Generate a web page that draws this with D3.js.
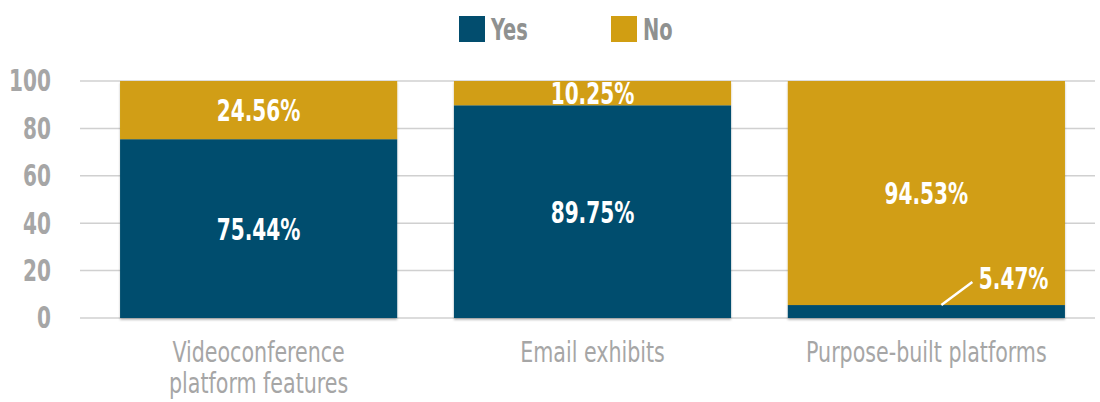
<!DOCTYPE html>
<html>
<head>
<meta charset="utf-8">
<script src="https://cdn.jsdelivr.net/npm/d3@7"></script>
<style>
  body { margin: 0; background: #fff; }
  svg text { font-family: "DejaVu Sans", sans-serif; font-stretch: condensed; }
</style>
</head>
<body>
<div id="chart"></div>
<script>
const WIDTH = 1100, HEIGHT = 402;
const MARGINS = {top: 81, bottom: 84, left: 80, right: 5};

const categories = [["Videoconference", "platform features"], ["Email exhibits"], ["Purpose-built platforms"]];
const yesValues = [75.44, 89.75, 5.47];
const noValues = [24.56, 10.25, 94.53];
const seriesNames = ["Yes", "No"];
const yTicks = [0, 20, 40, 60, 80, 100];
const colors = ["#024d6e", "#d19e12"];

// squeeze text horizontally, the original uses a narrow typeface
function condense(sel, k) {
    sel.each(function() {
        const w = this.getComputedTextLength();
        d3.select(this)
            .attr('textLength', w * k)
            .attr('lengthAdjust', 'spacingAndGlyphs');
    });
}

const svg = d3.select('#chart').append('svg')
    .attr('width', WIDTH)
    .attr('height', HEIGHT);

const defs = svg.append('defs');
defs.append('filter')
    .attr('id', 'shadow')
    .attr('x', '-5%').attr('y', '-5%').attr('width', '110%').attr('height', '115%')
    .append('feDropShadow')
    .attr('dx', 0).attr('dy', 2)
    .attr('stdDeviation', 1)
    .attr('flood-color', '#000')
    .attr('flood-opacity', 0.25);

const x = d3.scaleBand()
    .domain(d3.range(categories.length))
    .range([MARGINS.left, 1105])
    .paddingInner(0.17)
    .paddingOuter(0.12);

const y = d3.scaleLinear()
    .domain([0, 100])
    .range([HEIGHT - MARGINS.bottom, MARGINS.top]);

// gridlines
svg.append('g')
    .selectAll('line')
    .data(yTicks)
    .join('line')
    .attr('x1', MARGINS.left)
    .attr('x2', WIDTH - MARGINS.right)
    .attr('y1', d => y(d))
    .attr('y2', d => y(d))
    .attr('stroke', '#d0d0d0')
    .attr('stroke-width', 1.5);

// y axis labels
const yAxis = d3.axisLeft(y).tickValues(yTicks).tickSize(0).tickPadding(0);
svg.append('g')
    .attr('transform', `translate(51,0)`)
    .call(yAxis)
    .call(g => g.select('.domain').remove())
    .selectAll('text')
    .attr('fill', '#a6a6a6')
    .attr('font-family', null)
    .attr('font-size', null)
    .style('font-size', '31px')
    .style('font-weight', 'bold')
    .call(condense, 0.72);

// stacked data
const rows = categories.map((c, i) => ({i: i, Yes: yesValues[i], No: noValues[i]}));
const stack = d3.stack().keys(seriesNames)(rows);

svg.append('g')
    .attr('filter', 'url(#shadow)')
    .selectAll('g')
    .data(stack)
    .join('g')
    .attr('fill', (d, i) => colors[i])
    .selectAll('rect')
    .data(d => d)
    .join('rect')
    .attr('x', d => x(d.data.i))
    .attr('width', x.bandwidth())
    .attr('y', d => y(d[1]))
    .attr('height', d => y(d[0]) - y(d[1]));

// value labels
const fmt = v => v.toFixed(2) + '%';
stack.forEach((layer, si) => {
    layer.forEach(d => {
        const v = d.data[layer.key];
        const cx = x(d.data.i) + x.bandwidth() / 2;
        let cy = (y(d[0]) + y(d[1])) / 2;
        let tx = cx;
        if (v < 8) {
            // leader line to a label sitting above the thin segment
            tx = x(d.data.i) + x.bandwidth() * 0.815;
            cy = y(d[1]) - 27;
            svg.append('line')
                .attr('x1', cx + 15).attr('y1', y(d[1]))
                .attr('x2', cx + 46).attr('y2', y(d[1]) - 23)
                .attr('stroke', '#fff')
                .attr('stroke-width', 2.5);
        }
        svg.append('text')
            .attr('x', tx)
            .attr('y', cy)
            .attr('dy', '0.36em')
            .attr('text-anchor', 'middle')
            .attr('fill', '#fff')
            .style('font-size', '31px')
            .style('font-weight', 'bold')
            .text(fmt(v))
            .call(condense, 0.72);
    });
});

// category labels, one text element per line
categories.forEach((lines, i) => {
    lines.forEach((l, j) => {
        svg.append('text')
            .attr('x', x(i) + x.bandwidth() / 2)
            .attr('y', 362 + j * 31)
            .attr('text-anchor', 'middle')
            .attr('fill', '#a6a6a6')
            .style('font-size', '29px')
            .text(l)
            .call(condense, 0.79);
    });
});

// legend
const legendX = [459, 611];
seriesNames.forEach((name, i) => {
    svg.append('rect')
        .attr('x', legendX[i])
        .attr('y', 16)
        .attr('width', 26)
        .attr('height', 26)
        .attr('fill', colors[i]);
    svg.append('text')
        .attr('x', legendX[i] + 32)
        .attr('y', 29)
        .attr('dy', '0.36em')
        .attr('fill', '#8f9190')
        .style('font-size', '30px')
        .style('font-weight', 'bold')
        .text(name)
        .call(condense, 0.72);
});
</script>
</body>
</html>
